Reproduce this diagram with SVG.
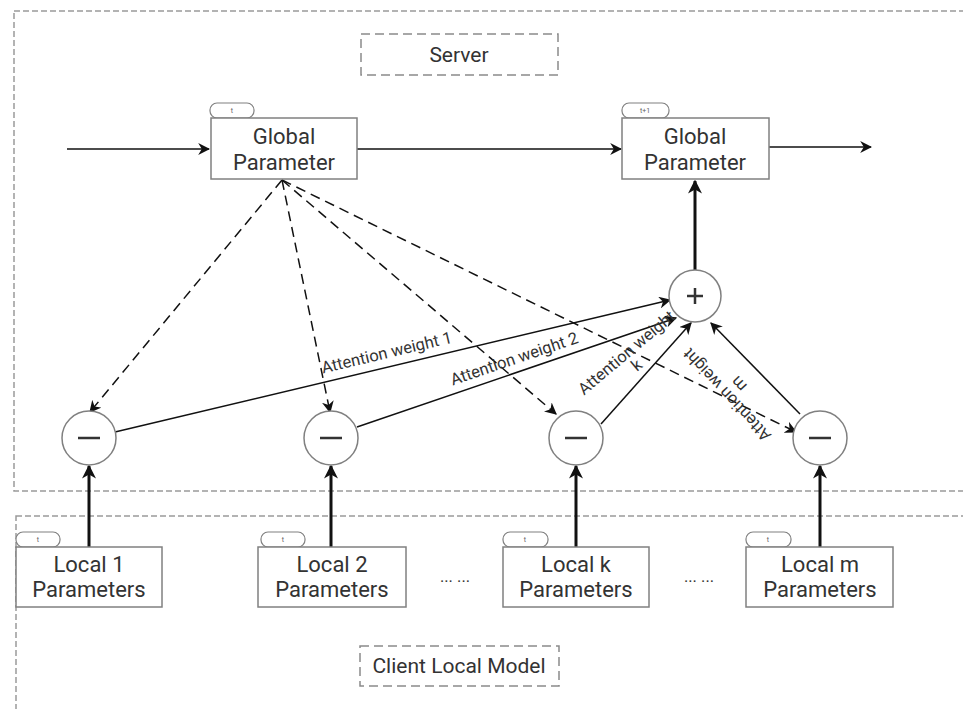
<svg xmlns="http://www.w3.org/2000/svg" width="963" height="709" viewBox="0 0 963 709">
  <style>
    .frame { fill: none; stroke: #9a9a9a; stroke-width: 1.5; stroke-dasharray: 6 3; }
    .label-box { fill: #fff; stroke: #8a8a8a; stroke-width: 1.5; stroke-dasharray: 9 5; }
    .box { fill: #fff; stroke: #808080; stroke-width: 1.5; }
    .tab { fill: #fff; stroke: #808080; stroke-width: 1.2; }
    .op { fill: #fff; stroke: #808080; stroke-width: 1.5; }
    .sym { stroke: #333; stroke-width: 2.5; fill: none; }
    .txt { font-family: Roboto, "Liberation Sans", sans-serif; font-size: 22px; fill: #333; text-anchor: middle; }
    .lbl { font-family: Roboto, "Liberation Sans", sans-serif; font-size: 21px; fill: #333; text-anchor: middle; }
    .tabtxt { font-family: Roboto, "Liberation Sans", sans-serif; font-size: 7px; fill: #666; text-anchor: middle; }
    .wtxt { font-family: Roboto, "Liberation Sans", sans-serif; font-size: 16.5px; fill: #333; text-anchor: middle; }
    .thin { stroke: #111; stroke-width: 1.5; fill: none; marker-end: url(#arrow); }
    .dash { stroke: #111; stroke-width: 1.5; fill: none; stroke-dasharray: 10 6; marker-end: url(#arrow); }
    .thick { stroke: #111; stroke-width: 3; fill: none; marker-end: url(#arrowBig); }
  </style>
  <defs>
    <marker id="arrow" viewBox="0 0 10 10" refX="9" refY="5" markerWidth="12" markerHeight="12" markerUnits="userSpaceOnUse" orient="auto">
      <path d="M0,0 L10,5 L0,10 L3,5 z" fill="#111"/>
    </marker>
    <marker id="arrowBig" viewBox="0 0 10 10" refX="9" refY="5" markerWidth="14" markerHeight="14" markerUnits="userSpaceOnUse" orient="auto">
      <path d="M0,0 L10,5 L0,10 L3,5 z" fill="#111"/>
    </marker>
  </defs>

  <!-- outer frames -->
  <rect class="frame" x="14" y="11" width="1000" height="480"/>
  <rect class="frame" x="16" y="516" width="1000" height="240"/>

  <g id="server-label">
    <rect class="label-box" x="361" y="34" width="197" height="41"/>
    <text class="lbl" x="459" y="62">Server</text>
  </g>
  <g id="client-label">
    <rect class="label-box" x="360" y="646" width="199" height="40"/>
    <text class="lbl" x="459" y="673">Client Local Model</text>
  </g>

  <!-- connectors -->
  <g id="connectors">
    <line class="thin" x1="67" y1="149" x2="209" y2="149"/>
    <line class="thin" x1="357" y1="149" x2="621" y2="149"/>
    <line class="thin" x1="769" y1="147" x2="871" y2="147"/>
    <line class="thick" x1="695" y1="270" x2="695" y2="181"/>

    <line class="dash" x1="282" y1="180" x2="90" y2="412"/>
    <line class="dash" x1="282" y1="180" x2="330" y2="412"/>
    <line class="dash" x1="282" y1="180" x2="556" y2="414"/>
    <line class="dash" x1="282" y1="180" x2="796" y2="432"/>

    <line class="thin" x1="115" y1="432" x2="670" y2="300"/>
    <line class="thin" x1="357" y1="427" x2="676" y2="318"/>
    <line class="thin" x1="601" y1="424" x2="691" y2="323"/>
    <line class="thin" x1="800" y1="414" x2="711" y2="323"/>

    <line class="thick" x1="89" y1="547" x2="89" y2="466"/>
    <line class="thick" x1="331" y1="547" x2="331" y2="466"/>
    <line class="thick" x1="576" y1="547" x2="576" y2="466"/>
    <line class="thick" x1="820" y1="547" x2="820" y2="466"/>

    <text class="wtxt" transform="translate(388,358) rotate(-13.4)">Attention weight 1</text>
    <text class="wtxt" transform="translate(516,364) rotate(-18.7)">Attention weight 2</text>
    <text class="wtxt" transform="translate(630,357) rotate(-40)">Attention weight<tspan x="0" dy="16">k</tspan></text>
    <text class="wtxt" transform="translate(731,391) rotate(227)">Attention weight<tspan x="0" dy="16">m</tspan></text>
  </g>

  <g id="global-t">
    <rect class="tab" x="210" y="103" width="44" height="15" rx="7"/>
    <text class="tabtxt" x="232" y="113">t</text>
    <rect class="box" x="211" y="118" width="146" height="61"/>
    <text class="txt" x="284" y="144">Global</text>
    <text class="txt" x="284" y="170">Parameter</text>
  </g>
  <g id="global-t1">
    <rect class="tab" x="622" y="103" width="47" height="15" rx="7"/>
    <text class="tabtxt" x="645" y="113">t+1</text>
    <rect class="box" x="622" y="118" width="147" height="61"/>
    <text class="txt" x="695" y="144">Global</text>
    <text class="txt" x="695" y="170">Parameter</text>
  </g>

  <g id="sum">
    <circle class="op" cx="695" cy="296" r="26"/>
    <path class="sym" d="M687,296 H703 M695,288 V304"/>
  </g>

  <g id="diff-1">
    <circle class="op" cx="89" cy="438" r="27"/>
    <path class="sym" d="M78,438 H100"/>
  </g>
  <g id="diff-2">
    <circle class="op" cx="331" cy="438" r="27"/>
    <path class="sym" d="M320,438 H342"/>
  </g>
  <g id="diff-k">
    <circle class="op" cx="576" cy="438" r="27"/>
    <path class="sym" d="M565,438 H587"/>
  </g>
  <g id="diff-m">
    <circle class="op" cx="820" cy="438" r="27"/>
    <path class="sym" d="M809,438 H831"/>
  </g>

  <g id="local-1">
    <rect class="tab" x="16" y="532" width="44" height="15" rx="7"/>
    <text class="tabtxt" x="38" y="542">t</text>
    <rect class="box" x="16" y="547" width="146" height="60"/>
    <text class="txt" x="89" y="572">Local 1</text>
    <text class="txt" x="89" y="597">Parameters</text>
  </g>
  <g id="local-2">
    <rect class="tab" x="261" y="532" width="44" height="15" rx="7"/>
    <text class="tabtxt" x="283" y="542">t</text>
    <rect class="box" x="258" y="547" width="148" height="60"/>
    <text class="txt" x="332" y="572">Local 2</text>
    <text class="txt" x="332" y="597">Parameters</text>
  </g>
  <g id="local-k">
    <rect class="tab" x="503" y="532" width="45" height="15" rx="7"/>
    <text class="tabtxt" x="525" y="542">t</text>
    <rect class="box" x="503" y="547" width="146" height="60"/>
    <text class="txt" x="576" y="572">Local k</text>
    <text class="txt" x="576" y="597">Parameters</text>
  </g>
  <g id="local-m">
    <rect class="tab" x="746" y="532" width="45" height="15" rx="7"/>
    <text class="tabtxt" x="768" y="542">t</text>
    <rect class="box" x="746" y="547" width="147" height="60"/>
    <text class="txt" x="820" y="572">Local m</text>
    <text class="txt" x="820" y="597">Parameters</text>
  </g>

  <g id="ellipsis">
    <text class="wtxt" x="455" y="582">... ...</text>
    <text class="wtxt" x="699" y="582">... ...</text>
  </g>
</svg>
